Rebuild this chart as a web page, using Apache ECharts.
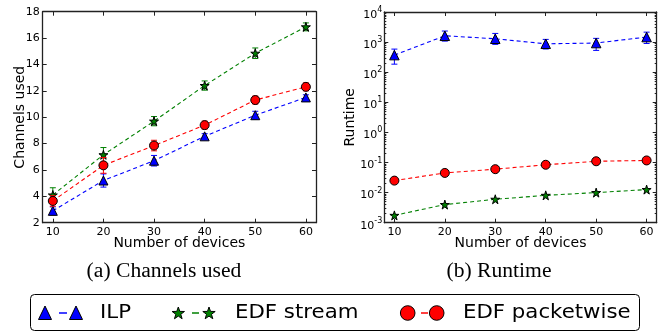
<!DOCTYPE html>
<html><head><meta charset="utf-8">
<script src="https://cdn.jsdelivr.net/npm/echarts@6/dist/echarts.min.js"></script>
<style>html,body{margin:0;padding:0;background:#fff}#c{width:670px;height:332px}</style>
</head><body><div id="c"></div>
<script>
// ---- data ----
const devices = [10, 20, 30, 40, 50, 60];
const xTicks = [10, 20, 30, 40, 50, 60];
const chanTicks = [2, 4, 6, 8, 10, 12, 14, 16, 18];
const logMajor = [0.001, 0.01, 0.1, 1, 10, 100, 1000, 10000];

// Channels used (mean, symmetric error)
const chanILP = [2.9, 5.2, 6.7, 8.55, 10.15, 11.5];
const chanILPErr = [0.3, 0.5, 0.4, 0.2, 0.3, 0.2];
const chanStream = [4.1, 7.15, 9.7, 12.4, 14.85, 16.85];
const chanStreamErr = [0.55, 0.55, 0.35, 0.35, 0.4, 0.3];
const chanPacket = [3.65, 6.35, 7.85, 9.4, 11.3, 12.3];
const chanPacketErr = [0.4, 0.6, 0.4, 0.3, 0.3, 0.3];

// Runtime (mean, lower, upper)
const rtILP = [370, 1620, 1290, 880, 930, 1470];
const rtILPLow = [185, 1080, 840, 590, 530, 900];
const rtILPHigh = [585, 2330, 1940, 1230, 1330, 2140];
const rtStream = [0.00175, 0.004, 0.006, 0.0081, 0.01, 0.0126];
const rtPacket = [0.025, 0.045, 0.06, 0.084, 0.11, 0.117];

// ---- styling ----
const BLUE = '#0000ff', GREEN = '#008000', RED = '#ff0000';
const STAR = 'path://M50,0 L61,35 L98,35 L68,57 L79,91 L50,70 L21,91 L32,57 L2,35 L39,35 Z';
const FONT = 'DejaVu Sans';
const axisCol = '#222';

const minorVals = [];
for (let e = -3; e < 4; e++) for (let k = 2; k <= 9; k++) minorVals.push(+(k * Math.pow(10, e)).toPrecision(3));

function starPts(cx, cy, R) {
  const pts = [], r = R * 0.4;
  for (let i = 0; i < 10; i++) {
    const a = -Math.PI / 2 + i * Math.PI / 5, rr = i % 2 ? r : R;
    pts.push([cx + rr * Math.cos(a), cy + rr * Math.sin(a)]);
  }
  return pts;
}

function pairs(xs, ys) { return xs.map((x, i) => [x, ys[i]]); }
function errSym(xs, ys, es) { return xs.map((x, i) => [x, ys[i] - es[i], ys[i] + es[i]]); }
function errAsym(xs, lo, hi) { return xs.map((x, i) => [x, lo[i], hi[i]]); }

function errSeries(data, color, xi, yi, z) {
  return {
    type: 'custom', xAxisIndex: xi, yAxisIndex: yi, silent: true, z: z,
    encode: { x: 0, y: [1, 2] }, data: data, clip: false,
    renderItem: function (params, api) {
      const x = api.value(0), lo = api.value(1), hi = api.value(2);
      const a = api.coord([x, hi]), b = api.coord([x, lo]);
      const w = 3, st = { stroke: color, lineWidth: 1 };
      return { type: 'group', children: [
        { type: 'line', shape: { x1: a[0], y1: a[1], x2: b[0], y2: b[1] }, style: st },
        { type: 'line', shape: { x1: a[0] - w, y1: a[1], x2: a[0] + w, y2: a[1] }, style: st },
        { type: 'line', shape: { x1: b[0] - w, y1: b[1], x2: b[0] + w, y2: b[1] }, style: st }
      ] };
    }
  };
}
function lineSeries(data, color, symbol, size, xi, yi, z) {
  return {
    type: 'line', xAxisIndex: xi, yAxisIndex: yi, data: data, z: z,
    symbol: symbol, symbolSize: size, showAllSymbol: true,
    lineStyle: { color: color, width: 1.1, type: [4, 3] },
    itemStyle: { color: color, borderColor: '#000', borderWidth: 1 },
    emphasis: { disabled: true }
  };
}

const xBase = {
  type: 'value', min: 8, max: 62,
  axisLine: { show: true, onZero: false, lineStyle: { color: axisCol, width: 1.3 } },
  axisTick: { show: true, inside: true, length: 4, customValues: xTicks, lineStyle: { color: axisCol } },
  axisLabel: { show: true, customValues: xTicks, margin: 4, fontFamily: FONT, fontSize: 11, color: '#000' },
  splitLine: { show: false }
};
function xAxisMain(gi) {
  return Object.assign({}, xBase, { gridIndex: gi, position: 'bottom',
    name: 'Number of devices', nameLocation: 'middle', nameGap: 14, nameMoveOverlap: false,
    nameTextStyle: { fontFamily: FONT, fontSize: 14, color: '#000', verticalAlign: 'top' } });
}
function xAxisTop(gi) {
  return Object.assign({}, xBase, { gridIndex: gi, position: 'top',
    axisLabel: { show: false, customValues: xTicks } });
}

const yLin = {
  type: 'value', min: 2, max: 18, interval: 2,
  axisLine: { show: true, onZero: false, lineStyle: { color: axisCol, width: 1.3 } },
  axisTick: { show: true, inside: true, length: 4, lineStyle: { color: axisCol } },
  splitLine: { show: false }
};
const logLabelFmt = function (v) {
  const e = Math.round(Math.log10(v));
  return '{b|10}{s|' + e + '}';
};
const yLogBase = {
  type: 'log', logBase: 10, min: 0.001, max: 10000,
  axisLine: { show: true, onZero: false, lineStyle: { color: axisCol, width: 1.3 } },
  splitLine: { show: false }
};

const option = {
  animation: false,
  backgroundColor: '#fff',
  grid: [
    { left: 42.7, top: 11.7, width: 273.3, height: 211 },
    { left: 384.3, top: 12, width: 272.4, height: 210.7 }
  ],
  xAxis: [xAxisMain(0), xAxisTop(0), xAxisMain(1), xAxisTop(1)],
  yAxis: [
    Object.assign({}, yLin, { gridIndex: 0, position: 'left',
      axisLabel: { margin: 3, fontFamily: FONT, fontSize: 11, color: '#000' },
      name: 'Channels used', nameLocation: 'middle', nameGap: 15, nameRotate: 90, nameMoveOverlap: false,
      nameTextStyle: { fontFamily: FONT, fontSize: 14, color: '#000' } }),
    Object.assign({}, yLin, { gridIndex: 0, position: 'right', axisLabel: { show: false } }),
    Object.assign({}, yLogBase, { gridIndex: 1, position: 'left',
      axisTick: { show: true, inside: true, length: 4, customValues: logMajor, lineStyle: { color: axisCol } },
      axisLabel: { margin: 2, customValues: logMajor, formatter: logLabelFmt, color: '#000',
        rich: { b: { fontFamily: FONT, fontSize: 11, color: '#000', padding: [6, 0, 0, 0] },
                s: { fontFamily: FONT, fontSize: 8, color: '#000', padding: [0, 0, 4, 0] } } },
      name: 'Runtime', nameLocation: 'middle', nameGap: 27, nameRotate: 90, nameMoveOverlap: false,
      nameTextStyle: { fontFamily: FONT, fontSize: 14, color: '#000' } }),
    Object.assign({}, yLogBase, { gridIndex: 1, position: 'left', offset: 0,
      axisLine: { show: false },
      axisTick: { show: true, inside: true, length: 2, customValues: minorVals, lineStyle: { color: axisCol } },
      axisLabel: { show: false } }),
    Object.assign({}, yLogBase, { gridIndex: 1, position: 'right',
      axisTick: { show: true, inside: true, length: 4, customValues: logMajor, lineStyle: { color: axisCol } },
      axisLabel: { show: false } }),
    Object.assign({}, yLogBase, { gridIndex: 1, position: 'right', offset: 0,
      axisLine: { show: false },
      axisTick: { show: true, inside: true, length: 2, customValues: minorVals, lineStyle: { color: axisCol } },
      axisLabel: { show: false } })
  ],
  series: [
    // left: channels used
    errSeries(errSym(devices, chanILP, chanILPErr), BLUE, 0, 0, 2),
    lineSeries(pairs(devices, chanILP), BLUE, 'triangle', 9, 0, 0, 3),
    errSeries(errSym(devices, chanStream, chanStreamErr), GREEN, 0, 0, 4),
    lineSeries(pairs(devices, chanStream), GREEN, STAR, 9, 0, 0, 5),
    errSeries(errSym(devices, chanPacket, chanPacketErr), RED, 0, 0, 6),
    lineSeries(pairs(devices, chanPacket), RED, 'circle', 9, 0, 0, 7),
    // right: runtime
    errSeries(errAsym(devices, rtILPLow, rtILPHigh), BLUE, 2, 2, 2),
    lineSeries(pairs(devices, rtILP), BLUE, 'triangle', 9.5, 2, 2, 3),
    lineSeries(pairs(devices, rtStream), GREEN, STAR, 9, 2, 2, 5),
    lineSeries(pairs(devices, rtPacket), RED, 'circle', 9, 2, 2, 7)
  ],
  graphic: [
    { type: 'text', x: 164, y: 272, scaleX: 1.08, style: { text: '(a) Channels used', font: '20px "Liberation Serif"', fill: '#000', align: 'center', verticalAlign: 'middle' } },
    { type: 'text', x: 499, y: 272, scaleX: 1.08, style: { text: '(b) Runtime', font: '20px "Liberation Serif"', fill: '#000', align: 'center', verticalAlign: 'middle' } },
    { type: 'rect', shape: { x: 30.5, y: 294.5, width: 609, height: 36, r: 4 }, style: { fill: '#fff', stroke: '#000', lineWidth: 1 } },
    // ILP
    { type: 'line', shape: { x1: 59, y1: 313, x2: 67, y2: 313 }, style: { stroke: BLUE, lineWidth: 1.5 } },
    { type: 'polygon', shape: { points: [[45, 306], [38.5, 319.5], [51.5, 319.5]] }, style: { fill: BLUE, stroke: '#000', lineWidth: 1 } },
    { type: 'polygon', shape: { points: [[76, 306], [69.5, 319.5], [82.5, 319.5]] }, style: { fill: BLUE, stroke: '#000', lineWidth: 1 } },
    { type: 'text', x: 100, y: 313, scaleX: 1.12, style: { text: 'ILP', font: '19px "DejaVu Sans"', fill: '#000', verticalAlign: 'middle' } },
    // EDF stream
    { type: 'line', shape: { x1: 192, y1: 313, x2: 199, y2: 313 }, style: { stroke: GREEN, lineWidth: 1.5 } },
    { type: 'polygon', shape: { points: starPts(178.3, 313.5, 6.5) }, style: { fill: GREEN, stroke: '#000', lineWidth: 1 } },
    { type: 'polygon', shape: { points: starPts(209, 313.5, 6.5) }, style: { fill: GREEN, stroke: '#000', lineWidth: 1 } },
    { type: 'text', x: 235, y: 313, scaleX: 1.12, style: { text: 'EDF stream', font: '19px "DejaVu Sans"', fill: '#000', verticalAlign: 'middle' } },
    // EDF packetwise
    { type: 'line', shape: { x1: 421, y1: 313, x2: 428, y2: 313 }, style: { stroke: RED, lineWidth: 1.5 } },
    { type: 'circle', shape: { cx: 407.7, cy: 313, r: 7.3 }, style: { fill: RED, stroke: '#000', lineWidth: 1 } },
    { type: 'circle', shape: { cx: 436.7, cy: 313, r: 7.3 }, style: { fill: RED, stroke: '#000', lineWidth: 1 } },
    { type: 'text', x: 463, y: 313, scaleX: 1.12, style: { text: 'EDF packetwise', font: '19px "DejaVu Sans"', fill: '#000', verticalAlign: 'middle' } }
  ]
};
const chart = echarts.init(document.getElementById('c'), null, { renderer: 'canvas' });
chart.setOption(option);
</script>
</body></html>
